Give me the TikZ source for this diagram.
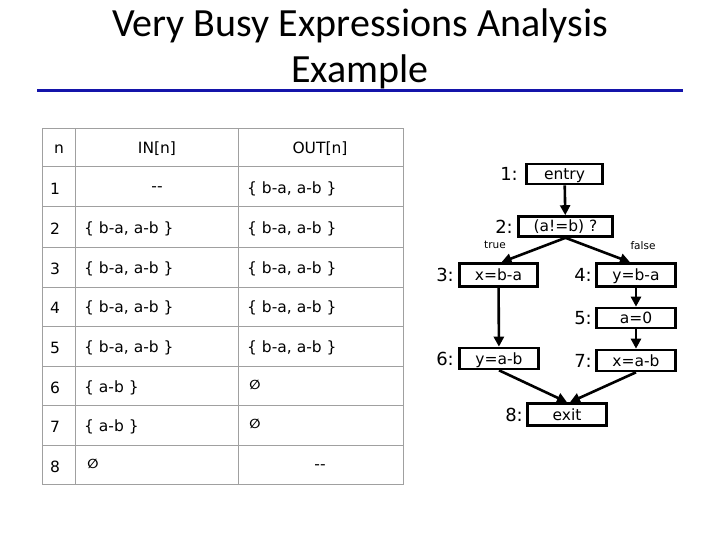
\documentclass[tikz,border=0pt]{standalone}
\usepackage{fontspec}
\setmainfont{Carlito}
\newfontfamily\dv{DejaVu Sans}
\usetikzlibrary{arrows.meta}
\definecolor{titleblue}{RGB}{20,20,170}
\definecolor{gridgray}{RGB}{160,160,160}
\tikzset{
  cell/.style={font=\dv\fontsize{15.5}{17}\selectfont, inner sep=0pt},
  emptyset/.style={font=\dv\bfseries\fontsize{13}{14}\selectfont, inner sep=0pt},
  box/.style={draw, line width=2.6pt, inner sep=0pt, text height=11pt, text depth=0pt, font=\dv\fontsize{15.5}{18}\selectfont},
  lbl/.style={anchor=east, inner sep=0pt, font=\dv\fontsize{18}{20}\selectfont},
  branch/.style={inner sep=0pt, font=\dv\fontsize{10.5}{12}\selectfont},
  flow/.style={line width=2.6pt, -{Triangle[length=10pt,width=10pt]}},
}
\begin{document}
\begin{tikzpicture}[x=1pt,y=-1pt]
\useasboundingbox (0,0) rectangle (720,540);
% title
\node[anchor=base, inner sep=0pt, font=\fontsize{40}{48}\selectfont] (t1) at (360,37) {Very Busy Expressions Analysis};
\node[anchor=base, inner sep=0pt, font=\fontsize{40}{48}\selectfont] (t2) at (360,83) {Example};
\draw[titleblue, line width=3pt] (37,91) -- (683,91);
% table grid
\draw[gridgray, line width=1pt] (42,129) rectangle (403,484);
\foreach \y in {167,207,247,287,326,366,405,445} \draw[gridgray, line width=1pt] (42,\y) -- (403,\y);
\draw[gridgray, line width=1pt] (75.5,129) -- (75.5,484);
\draw[gridgray, line width=1pt] (238,129) -- (238,484);
% header
\node[cell] (hn) at (59,149) {n};
\node[cell] (hin) at (157,149) {IN[n]};
\node[cell] (hout) at (320,149) {OUT[n]};
% row numbers
\node[cell, anchor=west] (n1) at (50,189) {1};
\node[cell, anchor=west] (n2) at (50,229) {2};
\node[cell, anchor=west] (n3) at (50,269) {3};
\node[cell, anchor=west] (n4) at (50,308) {4};
\node[cell, anchor=west] (n5) at (50,348) {5};
\node[cell, anchor=west] (n6) at (50,388) {6};
\node[cell, anchor=west] (n7) at (50,427) {7};
\node[cell, anchor=west] (n8) at (50,467) {8};
% IN column
\node[cell] (i1) at (157,189) {{-}{-}};
\node[cell, anchor=west] (i2) at (84,229) {\{ b-a, a-b \}};
\node[cell, anchor=west] (i3) at (84,269) {\{ b-a, a-b \}};
\node[cell, anchor=west] (i4) at (84,308) {\{ b-a, a-b \}};
\node[cell, anchor=west] (i5) at (84,348) {\{ b-a, a-b \}};
\node[cell, anchor=west] (i6) at (84,388) {\{ a-b \}};
\node[cell, anchor=west] (i7) at (84,427) {\{ a-b \}};
\node[emptyset] (i8) at (93,464) {∅};
% OUT column
\node[cell, anchor=west] (o1) at (247,189) {\{ b-a, a-b \}};
\node[cell, anchor=west] (o2) at (247,229) {\{ b-a, a-b \}};
\node[cell, anchor=west] (o3) at (247,269) {\{ b-a, a-b \}};
\node[cell, anchor=west] (o4) at (247,308) {\{ b-a, a-b \}};
\node[cell, anchor=west] (o5) at (247,348) {\{ b-a, a-b \}};
\node[emptyset] (o6) at (255,385) {∅};
\node[emptyset] (o7) at (255,424) {∅};
\node[cell] (o8) at (320,467) {{-}{-}};
% flow graph
\node[box, minimum width=76, minimum height=20] (b1) at (564.5,174) {entry};
\node[box, minimum width=94, minimum height=20] (b2) at (565.5,226.5) {(a!=b) ?};
\node[box, minimum width=78, minimum height=23] (b3) at (498.5,275) {x=b-a};
\node[box, minimum width=79, minimum height=23] (b4) at (636,275) {y=b-a};
\node[box, minimum width=79, minimum height=20] (b5) at (636,318) {a=0};
\node[box, minimum width=79, minimum height=21] (b6) at (499,358.5) {y=a-b};
\node[box, minimum width=79, minimum height=21] (b7) at (636,360.5) {x=a-b};
\node[box, minimum width=79, minimum height=22] (b8) at (567,414.5) {exit};
\node[lbl] (l1) at (518,174) {1:};
\node[lbl] (l2) at (513,226.5) {2:};
\node[lbl] (l3) at (454,275) {3:};
\node[lbl] (l4) at (592,275) {4:};
\node[lbl] (l5) at (592,318) {5:};
\node[lbl] (l6) at (454,358.5) {6:};
\node[lbl] (l7) at (592,360.5) {7:};
\node[lbl] (l8) at (523,414.5) {8:};
\node[branch] (tr) at (495,245) {true};
\node[branch] (fa) at (643,246) {false};
\draw[flow] (b1) -- (b2);
\draw[flow] (b2.south) -- ([xshift=3pt]b3.north);
\draw[flow] (b2.south) -- ([xshift=-6pt]b4.north);
\draw[flow] (b3) -- (b6);
\draw[flow] (b4) -- (b5);
\draw[flow] (b5) -- (b7);
\draw[flow] (b6.south) -- (b8.north);
\draw[flow] (b7.south) -- ([xshift=3pt]b8.north);
\end{tikzpicture}
\end{document}
